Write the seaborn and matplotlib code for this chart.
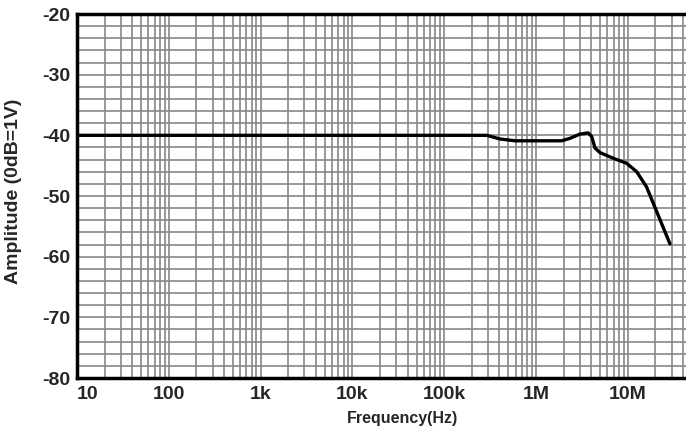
import numpy as np
import pandas as pd
import matplotlib
matplotlib.use("Agg")
import matplotlib.pyplot as plt
from matplotlib.ticker import FixedLocator, LogLocator, NullFormatter, MultipleLocator
import seaborn as sns

# frequency response
freq_hz = [10, 1e3, 1e5, 2.9e5, 4.05e5, 5.9e5, 1.0e6, 1.9e6, 2.34e6, 3.0e6, 3.7e6,
           4.04e6, 4.4e6, 4.98e6, 7.0e6, 9.7e6, 1.25e7, 1.6e7, 2.88e7]
amp_db = [-40.0, -40.0, -40.0, -40.0, -40.6, -40.9, -40.9, -40.9, -40.5, -39.8, -39.6,
          -40.2, -42.1, -42.85, -43.8, -44.6, -46.0, -48.5, -57.9]

x_ticks = [10, 100, 1e3, 1e4, 1e5, 1e6, 1e7]
x_labels = ["10", "100", "1k", "10k", "100k", "1M", "10M"]
y_ticks = [-80, -70, -60, -50, -40, -30, -20]

df = pd.DataFrame({"freq": freq_hz, "amp": amp_db})

sns.set_style("white")
plt.rcParams['font.family'] = ['Liberation Sans', 'DejaVu Sans']
plt.rcParams['font.weight'] = 'bold'
plt.rcParams['axes.unicode_minus'] = False

fig = plt.figure(figsize=(6.86, 4.33), dpi=100)
ax = fig.add_axes([77 / 686, 1 - 378 / 433, 1 - 77 / 686, (378 - 14) / 433])

sns.lineplot(data=df, x="freq", y="amp", ax=ax, color="black", linewidth=2.4)

ax.set_xscale("log")
ax.set_xlim(10, 10 ** (1 + (686 - 77) / 91.8))
ax.set_ylim(-80, -20)

ax.xaxis.set_major_locator(FixedLocator(x_ticks))
ax.set_xticklabels(x_labels)
ax.xaxis.set_minor_locator(LogLocator(base=10, subs=np.arange(2, 10), numticks=20))
ax.xaxis.set_minor_formatter(NullFormatter())
ax.yaxis.set_major_locator(FixedLocator(y_ticks))
ax.yaxis.set_minor_locator(MultipleLocator(2))

ax.grid(which="both", axis="both", color="#888888", linewidth=1.2)
ax.set_axisbelow(True)

ax.tick_params(which="both", length=0)
ax.tick_params(axis="x", labelsize=14, pad=6)
ax.tick_params(axis="y", labelsize=14, pad=5)
ax.get_xticklabels()[0].set_horizontalalignment("left")

for side in ["left", "top", "bottom"]:
    ax.spines[side].set_color("black")
    ax.spines[side].set_linewidth(2.5)
ax.spines["right"].set_visible(False)

ax.set_xlabel("Frequency(Hz)", fontsize=11.5, fontweight="bold")
ax.set_ylabel("Amplitude (0dB=1V)", fontsize=14, fontweight="bold")
ax.xaxis.set_label_coords((402 - 77) / 609, -(418 - 378) / 364)
ax.yaxis.set_label_coords(-(77 - 14) / 609, (378 - 191) / 364)
ax.xaxis.label.set_verticalalignment("center")
ax.yaxis.label.set_verticalalignment("center")

fig.savefig("out.png", dpi=100)
